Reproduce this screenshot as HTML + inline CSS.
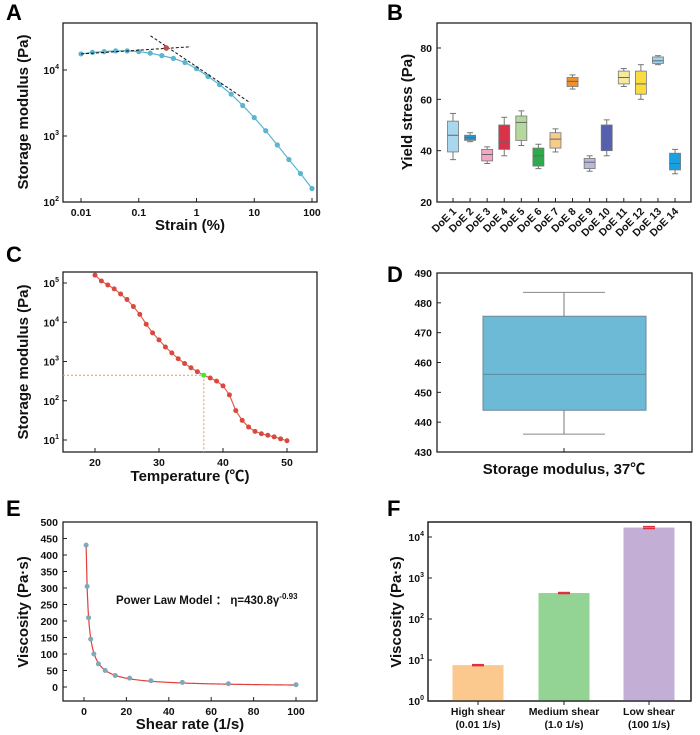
<!DOCTYPE html>
<html><head><meta charset="utf-8">
<style>
body{margin:0;background:#fff;width:700px;height:735px;overflow:hidden}
svg{display:block;font-family:"Liberation Sans",Arial,"Noto Sans CJK SC",sans-serif}
.tk{font-size:10.5px;font-weight:bold;fill:#111}
.tt{font-size:15px;font-weight:bold;fill:#111}
.pl{font-size:22px;font-weight:bold;fill:#000}
</style></head><body>
<svg id="fig" width="700" height="735" viewBox="0 0 700 735"></svg>
<script>
// Panel A data
const aStrain=[0.01,0.0158,0.0251,0.0398,0.0631,0.1,0.158,0.251,0.398,0.631,1,1.58,2.51,3.98,6.31,10,15.8,25.1,39.8,63.1,100];
const aModulus=[17500,18500,19000,19500,19500,19000,18000,16500,15000,13000,10500,8000,6000,4300,2900,1900,1200,730,440,270,160];
const aTan1=[[0.01,17500],[0.8,22500]];
const aTan2=[[0.16,33000],[8,3300]];
const aYield=[0.3,21500];
// Panel B data
const bCats=["DoE 1","DoE 2","DoE 3","DoE 4","DoE 5","DoE 6","DoE 7","DoE 8","DoE 9","DoE 10","DoE 11","DoE 12","DoE 13","DoE 14"];
const bMin=[36.5,43.5,35,38,42,33,39.5,64,32,38,65,60,73.5,31];
const bQ1=[39.5,44,36,40.5,44,34,41,65,33,40,66,62,74,32.5];
const bMed=[46,45,38.5,43,51,38,44.5,67,35.5,45,68.5,66,75,35];
const bQ3=[51.5,46,40.5,50,53.5,41,47,68.5,37,50,71,71,76.5,39];
const bMax=[54.5,47,41.5,53,55.5,42.5,48.5,69.5,38,52,72,73.5,77,40.5];
const bColors=["#a8d8f0","#1e9bd7","#f4a6c6","#d9334a","#b5d99c","#2eaa4a","#f5cc8a","#f0902a","#b8b8dc","#5560b0","#f5eba0","#f8dc40","#9fd4ee","#1aa0e0"];
const bTicks=[20,40,60,80];
// Panel C data
const cTemp=[20,21,22,23,24,25,26,27,28,29,30,31,32,33,34,35,36,37,38,39,40,41,42,43,44,45,46,47,48,49,50];
const cLogG=[5.2,5.05,4.95,4.85,4.72,4.58,4.4,4.2,3.95,3.73,3.55,3.37,3.22,3.07,2.95,2.84,2.74,2.65,2.58,2.5,2.38,2.15,1.75,1.5,1.33,1.22,1.16,1.12,1.08,1.03,0.98];
const cTicksX=[20,30,40,50];
// Panel D data
const dStats=[436,444,456,475.5,483.5];
const dTicks=[430,440,450,460,470,480,490];
// Panel E data
const eRate=[1,1.47,2.15,3.16,4.64,6.81,10,14.7,21.5,31.6,46.4,68.1,100];
const eVisc=[430,305,210,145,100,70,50,35,27,19,14,10,7];
const eTicksY=[0,50,100,150,200,250,300,350,400,450,500];
const eTicksX=[0,20,40,60,80,100];
// Panel F data
const fCats=[["High shear","(0.01 1/s)"],["Medium shear","(1.0 1/s)"],["Low shear","(100 1/s)"]];
const fVals=[7.5,430,17000];
const fErr=[0.2,12,900];
const fColors=["#fbc98e","#93d393","#c3aed6"];

const S=document.getElementById('fig');
const NS='http://www.w3.org/2000/svg';
function el(tag,at,parent,txt){const e=document.createElementNS(NS,tag);for(const k in at)e.setAttribute(k,at[k]);if(txt!==undefined)e.textContent=txt;(parent||S).appendChild(e);return e;}
function frame(x0,y0,x1,y1,name){const r=el('rect',{x:x0,y:y0,width:x1-x0,height:y1-y0,fill:'none',stroke:'#222','stroke-width':1.3});}
function label(t,x,y,name){const e=el('text',{x:x,y:y,class:'pl'},S,t);}
function ytitle(t,x,y,name){const e=el('text',{x:x,y:y,class:'tt','text-anchor':'middle',transform:`rotate(-90 ${x} ${y})`},S,t);}
function xtitle(t,x,y,name){const e=el('text',{x:x,y:y,class:'tt','text-anchor':'middle'},S,t);}
function ytickLog(x,y,exp){const t=el('text',{x:x-4,y:y+4,class:'tk','text-anchor':'end'});el('tspan',{},t,'10');el('tspan',{dy:-5,'font-size':7},t,String(exp));el('line',{x1:x,x2:x+4,y1:y,y2:y,stroke:'#222'});}

// ---------- Panel A ----------
{const X0=63,X1=317,Y0=23,Y1=202;
const sx=v=>81+(Math.log10(v)+2)*57.75, sy=v=>202-(Math.log10(v)-2)*66;
label('A',6,20,'panel-a-label');frame(X0,Y0,X1,Y1,'panel-a-frame');
[0.01,0.1,1,10,100].forEach(v=>{el('line',{x1:sx(v),x2:sx(v),y1:Y1,y2:Y1-4,stroke:'#222'});const t=el('text',{x:sx(v),y:Y1+14,class:'tk','text-anchor':'middle'},S,String(v));});
[2,3,4].forEach(e=>ytickLog(X0,sy(Math.pow(10,e)),e));
const pts=aStrain.map((v,i)=>sx(v)+','+sy(aModulus[i])).join(' ');
const ln=el('polyline',{points:pts,fill:'none',stroke:'#5bb5cf','stroke-width':1.2});
aStrain.forEach((v,i)=>{const c=el('circle',{cx:sx(v),cy:sy(aModulus[i]),r:2.6,fill:'#5bb5cf'});});
[aTan1,aTan2].forEach(t=>{const l=el('line',{x1:sx(t[0][0]),y1:sy(t[0][1]),x2:sx(t[1][0]),y2:sy(t[1][1]),stroke:'#111','stroke-dasharray':'3,2','stroke-width':1});});
const yp=el('circle',{cx:sx(aYield[0]),cy:sy(aYield[1]),r:2.8,fill:'#c0504d'});
ytitle('Storage modulus (Pa)',28,112,'y-axis-title-a');xtitle('Strain (%)',190,230,'x-axis-title-a');}

// ---------- Panel B ----------
{const X0=437,X1=691,Y0=23,Y1=202;
const sy=v=>202-(v-20)*2.567, sx=i=>453+i*17.08;
label('B',387,20,'panel-b-label');frame(X0,Y0,X1,Y1,'panel-b-frame');
bTicks.forEach(v=>{el('line',{x1:X0,x2:X0+4,y1:sy(v),y2:sy(v),stroke:'#222'});const t=el('text',{x:X0-5,y:sy(v)+4,class:'tk','text-anchor':'end'},S,String(v));});
bCats.forEach((c,i)=>{const x=sx(i);
el('line',{x1:x,x2:x,y1:Y1,y2:Y1-4,stroke:'#222'});
const g=el('g',{});
el('line',{x1:x,x2:x,y1:sy(bMax[i]),y2:sy(bQ3[i]),stroke:'#777'},g);
el('line',{x1:x,x2:x,y1:sy(bQ1[i]),y2:sy(bMin[i]),stroke:'#777'},g);
el('line',{x1:x-3,x2:x+3,y1:sy(bMax[i]),y2:sy(bMax[i]),stroke:'#777'},g);
el('line',{x1:x-3,x2:x+3,y1:sy(bMin[i]),y2:sy(bMin[i]),stroke:'#777'},g);
el('rect',{x:x-5.5,y:sy(bQ3[i]),width:11,height:sy(bQ1[i])-sy(bQ3[i]),fill:bColors[i],stroke:'#777','stroke-width':0.8},g);
el('line',{x1:x-5.5,x2:x+5.5,y1:sy(bMed[i]),y2:sy(bMed[i]),stroke:'#666'},g);
const t=el('text',{x:x+4,y:Y1+10,class:'tk','text-anchor':'end',transform:`rotate(-45 ${x+4} ${Y1+10})`},S,c);});
ytitle('Yield stress (Pa)',412,112,'y-axis-title-b');}

// ---------- Panel C ----------
{const X0=63,X1=317,Y0=272,Y1=452;
const sx=v=>95+(v-20)*6.4, sy=l=>283+(5-l)*39.25;
label('C',6,262,'panel-c-label');frame(X0,Y0,X1,Y1,'panel-c-frame');
cTicksX.forEach(v=>{el('line',{x1:sx(v),x2:sx(v),y1:Y1,y2:Y1-4,stroke:'#222'});const t=el('text',{x:sx(v),y:Y1+14,class:'tk','text-anchor':'middle'},S,String(v));});
[1,2,3,4,5].forEach(e=>ytickLog(X0,sy(e),e));
const gi=cTemp.indexOf(37);
const h=el('line',{x1:X0,x2:sx(37),y1:sy(cLogG[gi]),y2:sy(cLogG[gi]),stroke:'#e8a040','stroke-dasharray':'2,2'});
const v2=el('line',{x1:sx(37),x2:sx(37),y1:sy(cLogG[gi]),y2:Y1,stroke:'#e8a040','stroke-dasharray':'2,2'});
const ln=el('polyline',{points:cTemp.map((t,i)=>sx(t)+','+sy(cLogG[i])).join(' '),fill:'none',stroke:'#e2534a','stroke-width':1.1});
cTemp.forEach((t,i)=>{const c=el('circle',{cx:sx(t),cy:sy(cLogG[i]),r:2.5,fill:t===37?'#33ee33':'#d84a3e'});});
ytitle('Storage modulus (Pa)',28,362,'y-axis-title-c');xtitle('Temperature (℃)',190,481,'x-axis-title-c');}

// ---------- Panel D ----------
{const X0=437,X1=692,Y0=273,Y1=452;
const sy=v=>452-(v-430)*(179/60);
label('D',387,282,'panel-d-label');frame(X0,Y0,X1,Y1,'panel-d-frame');
dTicks.forEach(v=>{el('line',{x1:X0,x2:X0+4,y1:sy(v),y2:sy(v),stroke:'#222'});const t=el('text',{x:X0-5,y:sy(v)+4,class:'tk','text-anchor':'end'},S,String(v));});
el('line',{x1:564,x2:564,y1:Y1,y2:Y1-4,stroke:'#222'});
const g=el('g',{});
el('line',{x1:564,x2:564,y1:sy(dStats[4]),y2:sy(dStats[3]),stroke:'#777'},g);
el('line',{x1:564,x2:564,y1:sy(dStats[1]),y2:sy(dStats[0]),stroke:'#777'},g);
el('line',{x1:523,x2:605,y1:sy(dStats[4]),y2:sy(dStats[4]),stroke:'#888'},g);
el('line',{x1:523,x2:605,y1:sy(dStats[0]),y2:sy(dStats[0]),stroke:'#888'},g);
el('rect',{x:483,y:sy(dStats[3]),width:163,height:sy(dStats[1])-sy(dStats[3]),fill:'#6cbad6',stroke:'#6a8a98'},g);
el('line',{x1:483,x2:646,y1:sy(dStats[2]),y2:sy(dStats[2]),stroke:'#5a8a9a'},g);
xtitle('Storage modulus, 37℃',564,474,'x-axis-title-d');}

// ---------- Panel E ----------
{const X0=63,X1=317,Y0=522,Y1=701;
const sx=v=>84+v*2.12, sy=v=>687-v*0.33;
label('E',6,516,'panel-e-label');frame(X0,Y0,X1,Y1,'panel-e-frame');
eTicksY.forEach(v=>{el('line',{x1:X0,x2:X0+4,y1:sy(v),y2:sy(v),stroke:'#222'});const t=el('text',{x:X0-5,y:sy(v)+4,class:'tk','text-anchor':'end'},S,String(v));});
eTicksX.forEach(v=>{el('line',{x1:sx(v),x2:sx(v),y1:Y1,y2:Y1-4,stroke:'#222'});const t=el('text',{x:sx(v),y:Y1+14,class:'tk','text-anchor':'middle'},S,String(v));});
let p=[];for(let i=0;i<=200;i++){const x=1+i*0.495;p.push(sx(x)+','+sy(430.8*Math.pow(x,-0.93)));}
const fit=el('polyline',{points:p.join(' '),fill:'none',stroke:'#e0403a','stroke-width':1.2});
eRate.forEach((r,i)=>{const c=el('circle',{cx:sx(r),cy:sy(eVisc[i]),r:2.5,fill:'#7fa8b8'});});
const t=el('text',{x:116,y:604,'font-size':11.5,'font-weight':'bold',fill:'#111'});
el('tspan',{},t,'Power Law Model ： η=430.8γ');el('tspan',{dy:-5,'font-size':8},t,'-0.93');
ytitle('Viscosity (Pa·s)',28,612,'y-axis-title-e');xtitle('Shear rate (1/s)',190,729,'x-axis-title-e');}

// ---------- Panel F ----------
{const X0=428,X1=691,Y0=522,Y1=701;
const sy=v=>701-Math.log10(v)*41, cx=[478,564,649];
label('F',387,516,'panel-f-label');frame(X0,Y0,X1,Y1,'panel-f-frame');
[0,1,2,3,4].forEach(e=>ytickLog(X0,sy(Math.pow(10,e)),e));
fVals.forEach((v,i)=>{const b=el('rect',{x:cx[i]-25.5,y:sy(v),width:51,height:Y1-sy(v),fill:fColors[i]});
const e=el('line',{x1:cx[i]-6,x2:cx[i]+6,y1:sy(v+fErr[i]),y2:sy(v+fErr[i]),stroke:'#e03040','stroke-width':1.5});
el('line',{x1:cx[i]-6,x2:cx[i]+6,y1:sy(Math.max(v-fErr[i],1)),y2:sy(Math.max(v-fErr[i],1)),stroke:'#e03040','stroke-width':1.5});
el('line',{x1:cx[i],x2:cx[i],y1:Y1,y2:Y1+4,stroke:'#222'});
const t1=el('text',{x:cx[i],y:Y1+14,class:'tk','text-anchor':'middle'},S,fCats[i][0]);
const t2=el('text',{x:cx[i],y:Y1+27,class:'tk','text-anchor':'middle'},S,fCats[i][1]);});
el('rect',{x:X0,y:Y0,width:X1-X0,height:Y1-Y0,fill:'none',stroke:'#222','stroke-width':1.3});
ytitle('Viscosity (Pa·s)',401,612,'y-axis-title-f');}
</script>
</body></html>
